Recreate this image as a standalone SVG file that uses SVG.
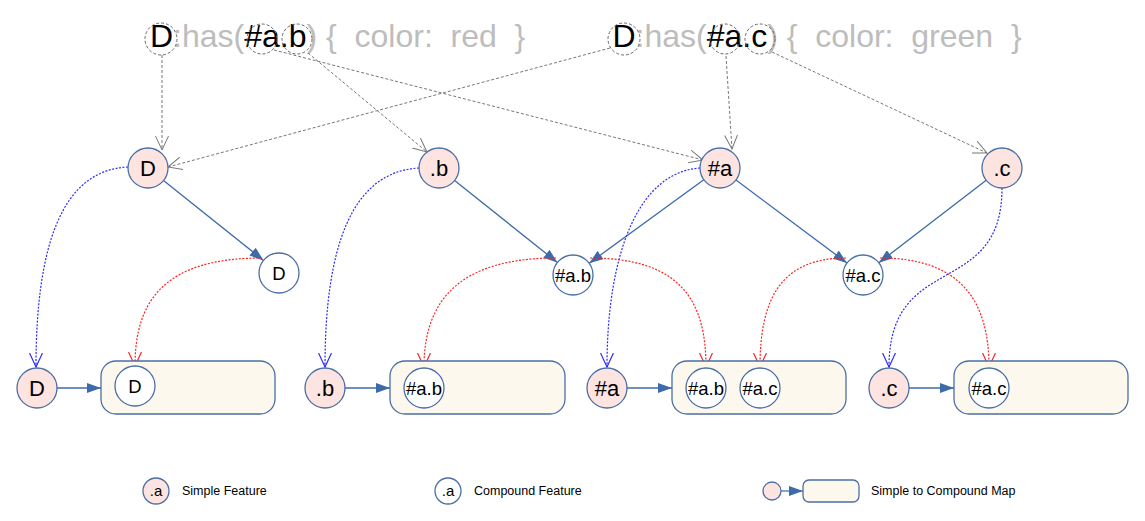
<svg xmlns="http://www.w3.org/2000/svg" width="1145" height="521" viewBox="0 0 1145 521">
<defs>
<style>
.title{font-family:"Liberation Sans",Arial,sans-serif;font-size:32px;white-space:pre}
.k{fill:#000}
.g{fill:#bdbdbd}
.sel{fill:none;stroke:#666;stroke-width:1;stroke-dasharray:3,2}
.simple{fill:#fde4e0;stroke:#4a6fa5;stroke-width:1.3}
.comp{fill:#fff;stroke:#4a6fa5;stroke-width:1.3}
.map{fill:#fdf8ee;stroke:#4a6fa5;stroke-width:1.3}
.lbl{font-family:"Liberation Sans",Arial,sans-serif;font-size:22px;fill:#000;text-anchor:middle}
.lbls{font-family:"Liberation Sans",Arial,sans-serif;font-size:18.5px;fill:#000;text-anchor:middle}
.leg{font-family:"Liberation Sans",Arial,sans-serif;font-size:12.5px;fill:#000}
.legc{font-family:"Liberation Sans",Arial,sans-serif;font-size:15px;fill:#000;text-anchor:middle}
.solid{fill:none;stroke:#3d6aa8;stroke-width:1.3;marker-end:url(#fb)}
.bdot{fill:none;stroke:#2a2aff;stroke-width:1.2;stroke-dasharray:2,1.5;marker-end:url(#ob)}
.rdot{fill:none;stroke:#ff2020;stroke-width:1.2;stroke-dasharray:2,1.5;marker-end:url(#or)}
.gdash{fill:none;stroke:#777;stroke-width:1;stroke-dasharray:3,2;marker-end:url(#og)}
</style>
<marker id="fb" viewBox="0 0 14 10" refX="14" refY="5" markerWidth="14" markerHeight="10" markerUnits="userSpaceOnUse" orient="auto"><path d="M0,0 L14,5 L0,10 z" fill="#3d6aa8"/></marker>
<marker id="ob" viewBox="0 0 15 14" refX="14" refY="7" markerWidth="15" markerHeight="14" markerUnits="userSpaceOnUse" orient="auto"><path d="M0,0.5 L14,7 L0,13.5" fill="none" stroke="#2a2aff" stroke-width="1.2"/></marker>
<marker id="or" viewBox="0 0 15 14" refX="14" refY="7" markerWidth="15" markerHeight="14" markerUnits="userSpaceOnUse" orient="auto"><path d="M0,0.5 L14,7 L0,13.5" fill="none" stroke="#ff2020" stroke-width="1.2"/></marker>
<marker id="og" viewBox="0 0 15 14" refX="14" refY="7" markerWidth="15" markerHeight="14" markerUnits="userSpaceOnUse" orient="auto"><path d="M0,0.5 L14,7 L0,13.5" fill="none" stroke="#777" stroke-width="1"/></marker>
</defs>
<rect width="1145" height="521" fill="#fff"/>

<g id="selector-red">
<text class="title" x="150" y="47"><tspan class="k">D</tspan><tspan class="g">:has(</tspan><tspan class="k">#a.b</tspan><tspan class="g">) {  color:  red  }</tspan></text>
<circle class="sel" cx="161" cy="39" r="16"/>
<circle class="sel" cx="262" cy="39" r="15"/>
<circle class="sel" cx="297" cy="39" r="15"/>
</g>
<g id="selector-green">
<text class="title" x="612.5" y="47"><tspan class="k">D</tspan><tspan class="g">:has(</tspan><tspan class="k">#a.c</tspan><tspan class="g">) {  color:  green  }</tspan></text>
<circle class="sel" cx="624" cy="39" r="16"/>
<circle class="sel" cx="725" cy="39" r="15"/>
<circle class="sel" cx="760" cy="39" r="15"/>
</g>

<g id="connectors">
<path class="gdash" d="M162,55 L162,150"/>
<path class="gdash" d="M610,48 L168,167"/>
<path class="gdash" d="M274,50 L703,160"/>
<path class="gdash" d="M308,53 L427,152"/>
<path class="gdash" d="M726,56 L732,149"/>
<path class="gdash" d="M772,52 L987,153"/>

<path class="solid" d="M163.5,180.6 L263.5,260.4"/>
<path class="solid" d="M454.6,180.5 L557.4,262.5"/>
<path class="solid" d="M703.8,179.8 L589.2,263.2"/>
<path class="solid" d="M736,180 L847,263"/>
<path class="solid" d="M986.2,180.2 L878.8,262.8"/>

<path class="solid" d="M57,388 L101,388"/>
<path class="solid" d="M345,388 L390,388"/>
<path class="solid" d="M627,388 L672,388"/>
<path class="solid" d="M909,388 L954,388"/>

<path class="bdot" d="M128,167 C60,170 36,250 36,367"/>
<path class="bdot" d="M419,168 C350,172 325,250 325,367"/>
<path class="bdot" d="M700,168 C640,172 607,250 607,367"/>
<path class="bdot" d="M1002,188 C1002,300 889,250 889,367"/>

<path class="rdot" d="M262,258 C165,258 135,300 135,366"/>
<path class="rdot" d="M556,258 C460,258 424,300 424,367"/>
<path class="rdot" d="M590,258 C680,258 706,300 706,367"/>
<path class="rdot" d="M846,258 C780,258 760,300 760,367"/>
<path class="rdot" d="M880,258 C960,258 989,300 989,367"/>

<path class="solid" d="M781,491 L803,491" style="stroke-width:1.2"/>
</g>

<g id="s-D"><circle class="simple" cx="148" cy="168" r="20"/><text class="lbl" x="148" y="176">D</text></g>
<g id="s-b"><circle class="simple" cx="439" cy="168" r="20"/><text class="lbl" x="439" y="176">.b</text></g>
<g id="s-a"><circle class="simple" cx="720" cy="168" r="20"/><text class="lbl" x="720" y="176">#a</text></g>
<g id="s-c"><circle class="simple" cx="1002" cy="168" r="20"/><text class="lbl" x="1002" y="176">.c</text></g>

<g id="c-D"><circle class="comp" cx="279" cy="273" r="20"/><text class="lbls" x="279" y="279.5">D</text></g>
<g id="c-ab"><circle class="comp" cx="573" cy="275" r="20"/><text class="lbls" x="573" y="281.5">#a.b</text></g>
<g id="c-ac"><circle class="comp" cx="863" cy="275" r="20"/><text class="lbls" x="863" y="281.5">#a.c</text></g>

<g id="map-D">
<circle class="simple" cx="37" cy="388" r="20"/><text class="lbl" x="37" y="396">D</text>
<rect class="map" x="101" y="361" width="174" height="53" rx="15"/>
<circle class="comp" cx="135" cy="386" r="20"/><text class="lbls" x="135" y="392.5">D</text>
</g>
<g id="map-b">
<circle class="simple" cx="325" cy="388" r="20"/><text class="lbl" x="325" y="396">.b</text>
<rect class="map" x="390" y="361" width="175" height="53" rx="15"/>
<circle class="comp" cx="424" cy="388" r="20"/><text class="lbls" x="424" y="394.5">#a.b</text>
</g>
<g id="map-a">
<circle class="simple" cx="607" cy="388" r="20"/><text class="lbl" x="607" y="396">#a</text>
<rect class="map" x="672" y="361" width="174" height="53" rx="15"/>
<circle class="comp" cx="706" cy="388" r="20"/><text class="lbls" x="706" y="394.5">#a.b</text>
<circle class="comp" cx="760" cy="388" r="20"/><text class="lbls" x="760" y="394.5">#a.c</text>
</g>
<g id="map-c">
<circle class="simple" cx="889" cy="388" r="20"/><text class="lbl" x="889" y="396">.c</text>
<rect class="map" x="954" y="361" width="174" height="53" rx="15"/>
<circle class="comp" cx="989" cy="388" r="20"/><text class="lbls" x="989" y="394.5">#a.c</text>
</g>

<g id="legend-simple">
<circle class="simple" cx="156" cy="491" r="13"/><text class="legc" x="156" y="496">.a</text>
<text class="leg" x="182" y="495">Simple Feature</text>
</g>
<g id="legend-compound">
<circle class="comp" cx="448" cy="491" r="13"/><text class="legc" x="448" y="496">.a</text>
<text class="leg" x="474" y="495">Compound Feature</text>
</g>
<g id="legend-map">
<circle class="simple" cx="772" cy="491" r="9"/>
<rect class="map" x="803" y="480" width="56" height="22" rx="6"/>
<text class="leg" x="871" y="495">Simple to Compound Map</text>
</g>
</svg>
